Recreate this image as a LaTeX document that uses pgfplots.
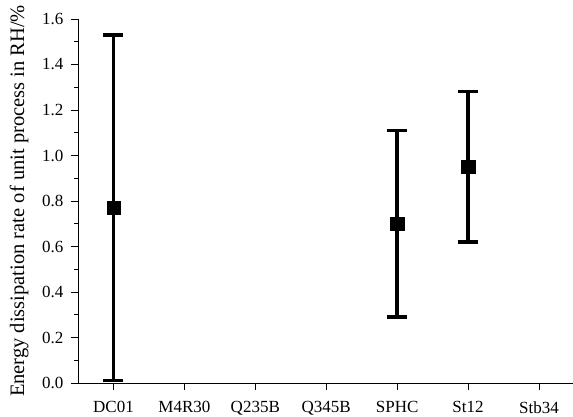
\documentclass[border=0pt]{standalone}
\usepackage{pgfplots}
\pgfplotsset{compat=1.18}
\usepackage{fontspec}
\setmainfont{Liberation Serif}
\begin{document}
\begin{tikzpicture}
\begin{axis}[
  scale only axis,
  width=495bp, height=364bp,
  xmin=-0.5, xmax=6.48,
  ymin=0, ymax=1.6,
  axis x line=bottom, axis y line=left,
  axis line style={-, line width=0.8bp},
  tick align=outside,
  major tick length=7bp, minor tick length=4bp,
  every tick/.style={black, line width=0.8bp},
  xtick={0,1,2,3,4,5,6},
  xticklabels={DC01,M4R30,Q235B,Q345B,SPHC,St12,Stb34},
  ytick={0,0.2,...,1.6},
  minor y tick num=1,
  yticklabel style={/pgf/number format/fixed, /pgf/number format/fixed zerofill, /pgf/number format/precision=1, xshift=-4bp},
  /pgf/number format/assume math mode=true,
  ticklabel style={font=\fontsize{17bp}{19bp}\selectfont},
  xticklabel style={yshift=-8bp},
  ylabel={Energy dissipation rate of unit process in RH/\%},
  every axis y label/.style={at={(rel axis cs:0,0.5)}, xshift=-59bp, rotate=90, anchor=center, font=\fontsize{20.5bp}{24bp}\selectfont},
]
\addplot[only marks, mark=square*, mark size=6.7bp, black,
  error bars/.cd, y dir=both, y explicit,
  error mark=|,
  error bar style={line width=3.6bp, black},
  error mark options={line width=3.3bp, mark size=10bp, black}]
  table[x=x, y=y, y error=e] {
x y e
0 0.77 0.76
4 0.70 0.41
5 0.95 0.33
};
\coordinate (ll) at (rel axis cs:0,0);
\coordinate (ur) at (rel axis cs:1,1);
\end{axis}
\pgfresetboundingbox
\path ([xshift=-78bp,yshift=-34bp]ll) rectangle ([yshift=19bp]ur);
\end{tikzpicture}
\end{document}
